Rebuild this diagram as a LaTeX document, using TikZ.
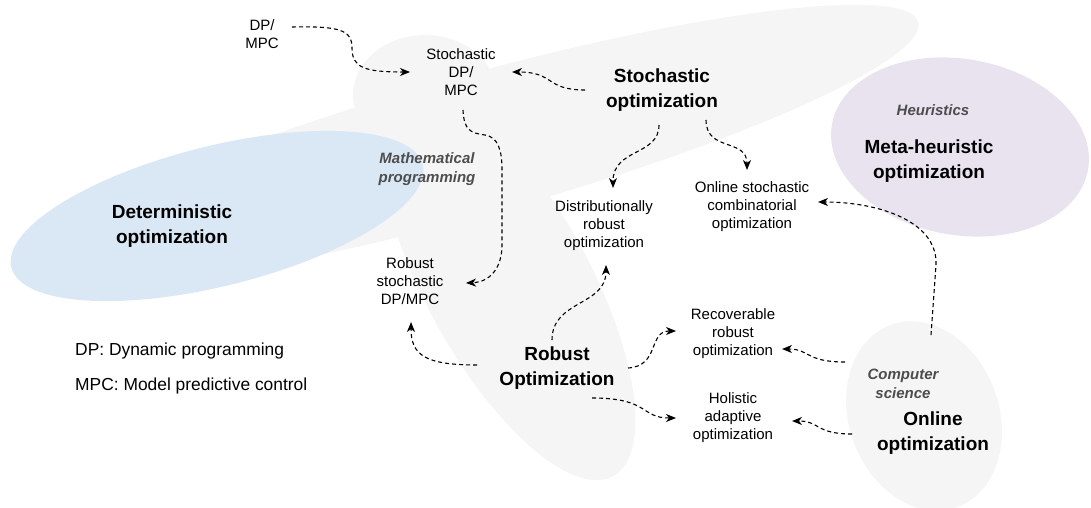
\documentclass[tikz,border=0pt]{standalone}
\usepackage{fontspec}
\setmainfont{Liberation Sans}
\usetikzlibrary{arrows.meta,calc}
\definecolor{grayfill}{HTML}{F4F5F4}
\definecolor{bluefill}{HTML}{DAE8F5}
\definecolor{purplefill}{HTML}{E9E2EF}
\definecolor{labelgray}{HTML}{4D4D4D}
\tikzset{
  small/.style={align=center, inner sep=0pt, font=\fontsize{15}{18}\selectfont},
  big/.style={align=center, inner sep=0pt, font=\fontsize{19}{25}\selectfont\bfseries},
  field/.style={align=center, inner sep=0pt, text=labelgray, font=\fontsize{15}{19}\selectfont\bfseries\itshape},
  legend/.style={anchor=west, inner sep=0pt, font=\fontsize{17.4}{20}\selectfont},
  conn/.style={line width=1.1pt, dash pattern=on 4pt off 3pt, -{Stealth[length=10pt,width=8pt,inset=3pt]}},
}
\begin{document}
\begin{tikzpicture}[x=1pt,y=-1pt]
\useasboundingbox (0,0) rectangle (1091,508);
\clip (0,0) rectangle (1091,508);
% background regions
\fill[grayfill, rotate around={15.5:(475,145)}] (475,145) ellipse [x radius=460, y radius=70];
\fill[grayfill] (425,95) ellipse [x radius=72, y radius=60];
\fill[grayfill, rotate around={-61.3:(508,284)}] (508,284) ellipse [x radius=219, y radius=82];
\fill[bluefill, rotate around={14:(217,216)}] (217,216) ellipse [x radius=212, y radius=70];
\fill[purplefill, rotate around={-10:(960,147)}] (960,147) ellipse [x radius=130, y radius=88];
\fill[grayfill, rotate around={-70:(924,416)}] (924,416) ellipse [x radius=97, y radius=75];
% labels
\node[small] (dpmpc) at (262,34.5) {DP/\\MPC};
\node[small] (sdp) at (461,72) {Stochastic\\DP/\\MPC};
\node[big] (so) at (662,90.5) {Stochastic\\optimization};
\node[field] (mp) at (427,169.5) {Mathematical\\programming};
\node[big] (det) at (172,226) {Deterministic\\optimization};
\node[field] (heur) at (933,110) {Heuristics};
\node[big] (meta) at (929,161) {Meta-heuristic\\optimization};
\node[small] (dro) at (604,226) {Distributionally\\robust\\optimization};
\node[small] (osc) at (752,207) {Online stochastic\\combinatorial\\optimization};
\node[small] (rsdp) at (410,281.5) {Robust\\stochastic\\DP/MPC};
\node[small] (rro) at (733,333.5) {Recoverable\\robust\\optimization};
\node[small] (hao) at (733,418) {Holistic\\adaptive\\optimization};
\node[big] (ro) at (557,368.5) {Robust\\Optimization};
\node[field] (cs) at (903,384) {Computer\\science};
\node[big] (oo) at (933,433.5) {Online\\optimization};
\node[legend] (leg1) at (75,351) {DP: Dynamic programming};
\node[legend] (leg2) at (75,386) {MPC: Model predictive control};
% connector ends
\coordinate (a1s) at (292,27);   \coordinate (a1e) at (410,72);
\coordinate (a2s) at (585,90);   \coordinate (a2e) at (512,72);
\coordinate (a3s) at (463,110);  \coordinate (a3e) at (466,283);
\coordinate (a4s) at (659,125);  \coordinate (a4e) at (613,188);
\coordinate (a5s) at (706,120);  \coordinate (a5e) at (747,170);
\coordinate (a6s) at (931,335);  \coordinate (a6e) at (818,202);
\coordinate (a7s) at (552,340);  \coordinate (a7e) at (606,265);
\coordinate (a8s) at (477,365);  \coordinate (a8e) at (411,322);
\coordinate (a9s) at (628,368);  \coordinate (a9e) at (676,331);
\coordinate (a10s) at (592,398); \coordinate (a10e) at (676,418);
\coordinate (a11s) at (845,362); \coordinate (a11e) at (782,349);
\coordinate (a12s) at (852,434); \coordinate (a12e) at (792,421);
% connectors
\draw[conn] (a1s) .. controls (340,26) and (352,30) .. (352,48) .. controls (352,68) and (365,72) .. (a1e);
\draw[conn] (a2s) .. controls (545,90) and (555,72) .. (a2e);
\draw[conn] (a3s) .. controls (464,130) and (470,133) .. (485,135) .. controls (498,137) and (502,150) .. (502,170) -- (502,245) .. controls (502,268) and (490,282) .. (a3e);
\draw[conn] (a4s) .. controls (659,156) and (613,148) .. (a4e);
\draw[conn] (a5s) .. controls (706,152) and (747,138) .. (a5e);
\draw[conn] (a6s) -- (936,265) .. controls (938,222) and (880,202) .. (a6e);
\draw[conn] (a7s) .. controls (552,300) and (606,306) .. (a7e);
\draw[conn] (a8s) .. controls (425,365) and (411,355) .. (a8e);
\draw[conn] (a9s) .. controls (660,366) and (648,331) .. (a9e);
\draw[conn] (a10s) .. controls (650,398) and (640,418) .. (a10e);
\draw[conn] (a11s) .. controls (805,362) and (810,349) .. (a11e);
\draw[conn] (a12s) .. controls (815,434) and (820,421) .. (a12e);
\end{tikzpicture}
\end{document}
